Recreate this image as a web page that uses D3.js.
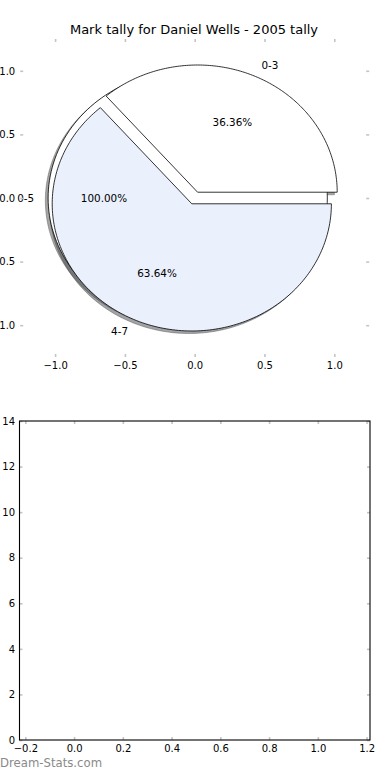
<!DOCTYPE html>
<html>
<head>
<meta charset="utf-8">
<script src="https://cdn.jsdelivr.net/npm/d3@7"></script>
<style>
  body { margin: 0; background: #fff; }
  svg { display: block; font-family: "DejaVu Sans", sans-serif; }
</style>
</head>
<body>
<div id="chart"></div>
<script>

// data
var titleText = "Mark tally for Daniel Wells - 2005 tally";
var outerLabels = ["0-5"];
var outerValues = [11];
var outerColors = ["#ffffff"];
var innerLabels = ["0-3", "4-7"];
var innerValues = [4, 7];
var innerColors = ["#ffffff", "#eaf0fc"];
var explode = 0.05;
var pieTicks = [-1.0, -0.5, 0.0, 0.5, 1.0];
var barXTicks = [-0.2, 0.0, 0.2, 0.4, 0.6, 0.8, 1.0, 1.2];
var barYTicks = [0, 2, 4, 6, 8, 10, 12, 14];

var W = 390, H = 780;
var tickColor = "#c4c4c4";

var svg = d3.select("#chart").append("svg")
  .attr("width", W).attr("height", H);

// ---------- top: pie axes ----------
var x = d3.scaleLinear().domain([-1.25, 1.25]).range([20.2, 369.2]);
var y = d3.scaleLinear().domain([-1.25, 1.25]).range([357, 39]);

svg.append("text")
  .attr("x", 194).attr("y", 34)
  .attr("text-anchor", "middle")
  .style("font-size", "13px")
  .text(titleText);

var line = d3.line()
  .x(function(d) { return x(d[0]); })
  .y(function(d) { return y(d[1]); });

// wedge outline in data units (axes are not equal, so it is an ellipse on screen)
function wedgePath(cx, cy, a0, a1, full) {
  var n = 180;
  var pts = d3.range(n + 1).map(function(i) {
    var a = a0 + (a1 - a0) * i / n;
    return [cx + Math.cos(a), cy + Math.sin(a)];
  });
  if (!full) pts = [[cx, cy]].concat(pts);
  return line(pts) + "Z";
}

function buildPie(labels, values, colors) {
  var arcs = d3.pie().sort(null).value(function(d) { return d; })(values);
  var total = d3.sum(values);
  return arcs.map(function(a, i) {
    var mid = (a.startAngle + a.endAngle) / 2;
    var cx = explode * Math.cos(mid), cy = explode * Math.sin(mid);
    return {
      label: labels[i],
      pct: (100 * values[i] / total).toFixed(2) + "%",
      color: colors[i],
      cx: cx, cy: cy, mid: mid,
      d: wedgePath(cx, cy, a.startAngle, a.endAngle, a.endAngle - a.startAngle >= 2 * Math.PI - 1e-9)
    };
  });
}

var outer = buildPie(outerLabels, outerValues, outerColors);
var inner = buildPie(innerLabels, innerValues, innerColors);
var allWedges = outer.concat(inner);

function shadowColor(c) {
  var rgb = d3.rgb(c);
  return "rgba(" + Math.round(rgb.r * 0.3) + "," + Math.round(rgb.g * 0.3) + "," + Math.round(rgb.b * 0.3) + ",0.5)";
}

var pieG = svg.append("g");

// shadows go below every wedge
pieG.selectAll(".shadow")
  .data(allWedges)
  .enter().append("path")
    .attr("class", "shadow")
    .attr("d", function(d) { return d.d; })
    .attr("transform", "translate(" + (x(-0.02) - x(0)) + "," + (y(-0.02) - y(0)) + ")")
    .attr("fill", function(d) { return shadowColor(d.color); })
    .attr("stroke", function(d) { return shadowColor(d.color); })
    .attr("stroke-width", 0.8);

pieG.selectAll(".wedge")
  .data(allWedges)
  .enter().append("path")
    .attr("class", "wedge")
    .attr("d", function(d) { return d.d; })
    .attr("fill", function(d) { return d.color; })
    .attr("stroke", "#000")
    .attr("stroke-width", 0.8)
    .attr("stroke-linejoin", "miter");

// labels at 1.1 radius, percentages at 0.6
allWedges.forEach(function(w) {
  var lx = w.cx + 1.1 * Math.cos(w.mid), ly = w.cy + 1.1 * Math.sin(w.mid);
  pieG.append("text")
    .attr("x", x(lx)).attr("y", y(ly)).attr("dy", "0.35em")
    .attr("text-anchor", lx > 0 ? "start" : "end")
    .style("font-size", "10.4px")
    .text(w.label);
  var px = w.cx + 0.6 * Math.cos(w.mid), py = w.cy + 0.6 * Math.sin(w.mid);
  pieG.append("text")
    .attr("x", x(px)).attr("y", y(py)).attr("dy", "0.35em")
    .attr("text-anchor", "middle")
    .style("font-size", "10.4px")
    .text(w.pct);
});

// pie axes: no frame, only inward ticks
function styleAxis(g) {
  g.select(".domain").remove();
  g.selectAll(".tick line").attr("stroke", tickColor).attr("stroke-width", 1.6);
  g.selectAll(".tick text").attr("fill", "#000").style("font-size", "10px").style("font-family", "DejaVu Sans");
}

var fmt1 = d3.format(".1f");

svg.append("g").attr("transform", "translate(0," + y.range()[0] + ")")
  .call(d3.axisBottom(x).tickValues(pieTicks).tickFormat(fmt1).tickSize(-3).tickPadding(5))
  .call(styleAxis);
svg.append("g").attr("transform", "translate(0," + y.range()[1] + ")")
  .call(d3.axisTop(x).tickValues(pieTicks).tickFormat("").tickSize(-3))
  .call(styleAxis);
svg.append("g").attr("transform", "translate(" + x.range()[0] + ",0)")
  .call(d3.axisLeft(y).tickValues(pieTicks).tickFormat(fmt1).tickSize(-3).tickPadding(5))
  .call(styleAxis);
svg.append("g").attr("transform", "translate(" + x.range()[1] + ",0)")
  .call(d3.axisRight(y).tickValues(pieTicks).tickFormat("").tickSize(-3))
  .call(styleAxis);

// ---------- bottom: empty axes ----------
var x2 = d3.scaleLinear().domain([-0.224, 1.214]).range([19.5, 370]);
var y2 = d3.scaleLinear().domain([0, 14]).range([740, 421]);

svg.append("g").attr("transform", "translate(0,740)")
  .call(d3.axisBottom(x2).tickValues(barXTicks).tickFormat(fmt1).tickSize(-3).tickPadding(4.5))
  .call(styleAxis);
svg.append("g").attr("transform", "translate(0,421)")
  .call(d3.axisTop(x2).tickValues(barXTicks).tickFormat("").tickSize(-3))
  .call(styleAxis);
svg.append("g").attr("transform", "translate(19.5,0)")
  .call(d3.axisLeft(y2).tickValues(barYTicks).tickFormat(d3.format("d")).tickSize(-3).tickPadding(4.5))
  .call(styleAxis);
svg.append("g").attr("transform", "translate(370,0)")
  .call(d3.axisRight(y2).tickValues(barYTicks).tickFormat("").tickSize(-3))
  .call(styleAxis);

svg.append("rect")
  .attr("x", x2.range()[0]).attr("y", y2.range()[1])
  .attr("width", x2.range()[1] - x2.range()[0])
  .attr("height", y2.range()[0] - y2.range()[1])
  .attr("fill", "none")
  .attr("stroke", "#000")
  .attr("stroke-width", 1.1);

// watermark
svg.append("text")
  .attr("x", 0).attr("y", 766.5)
  .style("font-size", "11.7px")
  .attr("fill", "#8a8a8a")
  .text("Dream-Stats.com");

</script>
</body>
</html>
